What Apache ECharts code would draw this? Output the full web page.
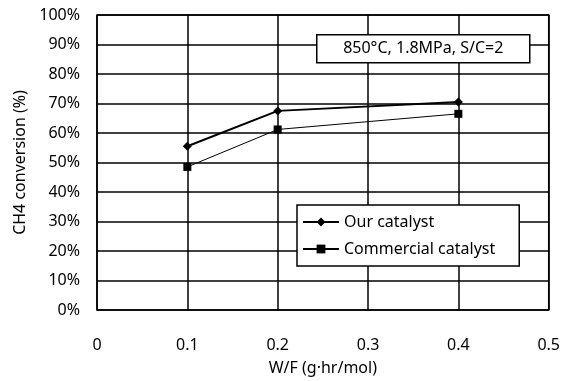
<!DOCTYPE html>
<html><head><meta charset="utf-8">
<script src="https://cdn.jsdelivr.net/npm/echarts@6/dist/echarts.min.js"></script>
<style>html,body{margin:0;padding:0;background:#fff}#c{width:563px;height:381px}</style>
</head><body><div id="c"></div>
<script>
const xValues = [0.1, 0.2, 0.4];
const ourCatalyst = [55.5, 67.5, 70.5];
const commercialCatalyst = [48.5, 61.2, 66.5];
const seriesNames = ['Our catalyst', 'Commercial catalyst'];
const annotation = '850°C, 1.8MPa, S/C=2';
const xTitle = 'W/F (g·hr/mol)';
const yTitle = 'CH4 conversion (%)';

const font = '"Noto Sans", sans-serif';
const chart = echarts.init(document.getElementById('c'), null, {renderer: 'canvas'});
chart.setOption({
  animation: false,
  backgroundColor: '#fff',
  textStyle: {fontFamily: font},
  grid: {left: 97, right: 13, top: 15, bottom: 71, show: true, borderColor: '#000', borderWidth: 1.5},
  xAxis: {
    type: 'value', min: 0, max: 0.5, interval: 0.1,
    axisLine: {show: false}, axisTick: {show: false},
    splitLine: {show: true, lineStyle: {color: '#000', width: 1.5}},
    axisLabel: {color: '#000', fontSize: 16, margin: 27, fontFamily: font,
      formatter: v => (Math.round(v * 10) / 10).toString()},
    name: xTitle, nameLocation: 'middle', nameGap: 50,
    nameTextStyle: {color: '#000', fontSize: 16, fontFamily: font}
  },
  yAxis: {
    type: 'value', min: 0, max: 100, interval: 10,
    axisLine: {show: false}, axisTick: {show: false},
    splitLine: {show: true, lineStyle: {color: '#000', width: 1.5}},
    axisLabel: {color: '#000', fontSize: 16, margin: 17, fontFamily: font, formatter: '{value}%'},
    name: yTitle, nameLocation: 'middle', nameGap: 68, nameRotate: 90,
    nameTextStyle: {color: '#000', fontSize: 16, fontFamily: font}
  },
  legend: {
    orient: 'vertical', left: 297, top: 205,
    backgroundColor: '#fff', borderColor: '#000', borderWidth: 1.5,
    padding: [9, 24, 9, 5], itemGap: 11, itemWidth: 36, itemHeight: 11,
    textStyle: {color: '#000', fontSize: 16, fontFamily: font},
    data: seriesNames, z: 10
  },
  graphic: [{
    type: 'group', left: 316, top: 34, z: 100,
    children: [
      {type: 'rect', z: 100, shape: {x: 0, y: 0, width: 213, height: 28},
        style: {fill: '#fff', stroke: '#000', lineWidth: 1.5}},
      {type: 'text', z: 101, x: 106.5, y: 14,
        style: {text: annotation, fill: '#000', font: '16px ' + font, align: 'center', verticalAlign: 'middle'}}
    ]
  }],
  series: [
    {name: seriesNames[0], type: 'line', data: xValues.map((x, i) => [x, ourCatalyst[i]]),
      symbol: 'diamond', symbolSize: 9, color: '#000',
      lineStyle: {color: '#000', width: 2}, itemStyle: {color: '#000'}, z: 3},
    {name: seriesNames[1], type: 'line', data: xValues.map((x, i) => [x, commercialCatalyst[i]]),
      symbol: 'rect', symbolSize: 8, color: '#000',
      lineStyle: {color: '#000', width: 1}, itemStyle: {color: '#000'}, z: 3}
  ]
});
</script></body></html>
